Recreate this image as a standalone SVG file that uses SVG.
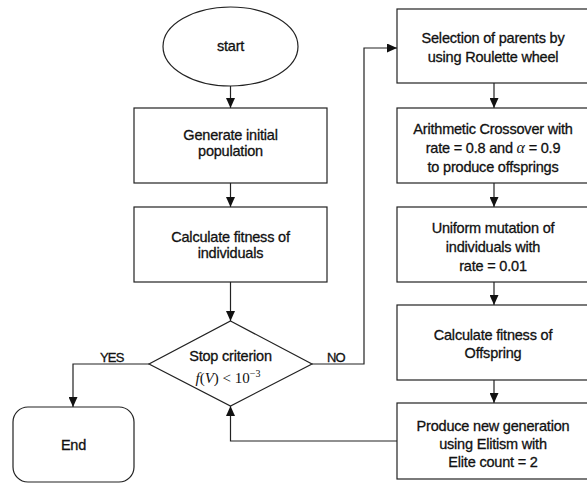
<svg xmlns="http://www.w3.org/2000/svg" width="587" height="483" viewBox="0 0 587 483">
<defs>
<marker id="arr" markerUnits="userSpaceOnUse" markerWidth="10" markerHeight="9" refX="10" refY="4.5" orient="auto">
<path d="M0,0 L10,4.5 L0,9 z" fill="#111"/>
</marker>
<style>
.box{fill:#fff;stroke:#222;stroke-width:1.2}
.t{font-family:"Liberation Sans",Arial,sans-serif;font-size:14.5px;fill:#111;stroke:#111;stroke-width:0.3px;text-anchor:middle;letter-spacing:-0.2px}
.lbl{font-family:"Liberation Sans",Arial,sans-serif;font-size:13px;fill:#111;stroke:#111;stroke-width:0.3px;letter-spacing:-0.8px}
.m{font-family:"Liberation Serif","Times New Roman",serif;font-size:15px;fill:#111}
.c{fill:none;stroke:#222;stroke-width:1.2}
</style>
</defs>
<rect width="587" height="483" fill="#fff"/>
<g id="connectors">
<path class="c" d="M230.5,86 V108" marker-end="url(#arr)"/>
<path class="c" d="M230.5,183 V207" marker-end="url(#arr)"/>
<path class="c" d="M230.5,282 V321" marker-end="url(#arr)"/>
<path class="c" d="M149,364 H73 V407" marker-end="url(#arr)"/>
<path class="c" d="M312,364 H364 V48 H397" marker-end="url(#arr)"/>
<path class="c" d="M494,83 V108" marker-end="url(#arr)"/>
<path class="c" d="M494,183 V207" marker-end="url(#arr)"/>
<path class="c" d="M494,282 V305" marker-end="url(#arr)"/>
<path class="c" d="M494,380 V403" marker-end="url(#arr)"/>
<path class="c" d="M397,441 H230.5 V406" marker-end="url(#arr)"/>
<text class="lbl" x="100" y="362">YES</text>
<text class="lbl" x="327" y="362">NO</text>
</g>
<g id="start">
<ellipse class="box" cx="230.5" cy="46.5" rx="67.5" ry="39.5"/>
<text class="t" x="230.5" y="51">start</text>
</g>
<g id="generate">
<rect class="box" x="134" y="108" width="193" height="75"/>
<text class="t" x="230.5" y="140">Generate initial</text>
<text class="t" x="230.5" y="155.5">population</text>
</g>
<g id="fitness">
<rect class="box" x="134" y="207" width="193" height="75"/>
<text class="t" x="230.5" y="242">Calculate fitness of</text>
<text class="t" x="230.5" y="258">individuals</text>
</g>
<g id="stop">
<polygon class="box" points="230.5,321 312,364 230.5,406 149,364"/>
<text class="t" x="230.5" y="361">Stop criterion</text>
<text class="m" x="228" y="383" text-anchor="middle"><tspan font-style="italic">f</tspan>(<tspan font-style="italic">V</tspan>) &lt; 10<tspan font-size="10" dy="-6">−3</tspan></text>
</g>
<g id="end">
<rect class="box" x="13" y="407" width="121" height="75" rx="15" ry="15"/>
<text class="t" x="73.5" y="450">End</text>
</g>
<g id="selection">
<rect class="box" x="397" y="9" width="193" height="74"/>
<text class="t" x="493" y="43">Selection of parents by</text>
<text class="t" x="493" y="62">using Roulette wheel</text>
</g>
<g id="crossover">
<rect class="box" x="397" y="108" width="193" height="75"/>
<text class="t" x="493" y="134">Arithmetic Crossover with</text>
<text class="t" x="493" y="153">rate = 0.8 and  <tspan font-family="Liberation Serif, serif" font-style="italic" font-size="16" stroke-width="0">α</tspan> = 0.9</text>
<text class="t" x="493" y="172">to produce offsprings</text>
</g>
<g id="mutation">
<rect class="box" x="397" y="207" width="193" height="75"/>
<text class="t" x="493" y="233">Uniform mutation of</text>
<text class="t" x="493" y="252">individuals with</text>
<text class="t" x="493" y="271">rate = 0.01</text>
</g>
<g id="offspring">
<rect class="box" x="397" y="305" width="193" height="75"/>
<text class="t" x="493" y="340">Calculate fitness of</text>
<text class="t" x="493" y="358">Offspring</text>
</g>
<g id="newgen">
<rect class="box" x="397" y="403" width="193" height="76"/>
<text class="t" x="493" y="431">Produce new generation</text>
<text class="t" x="493" y="449">using Elitism with</text>
<text class="t" x="493" y="467">Elite count = 2</text>
</g>
</svg>
